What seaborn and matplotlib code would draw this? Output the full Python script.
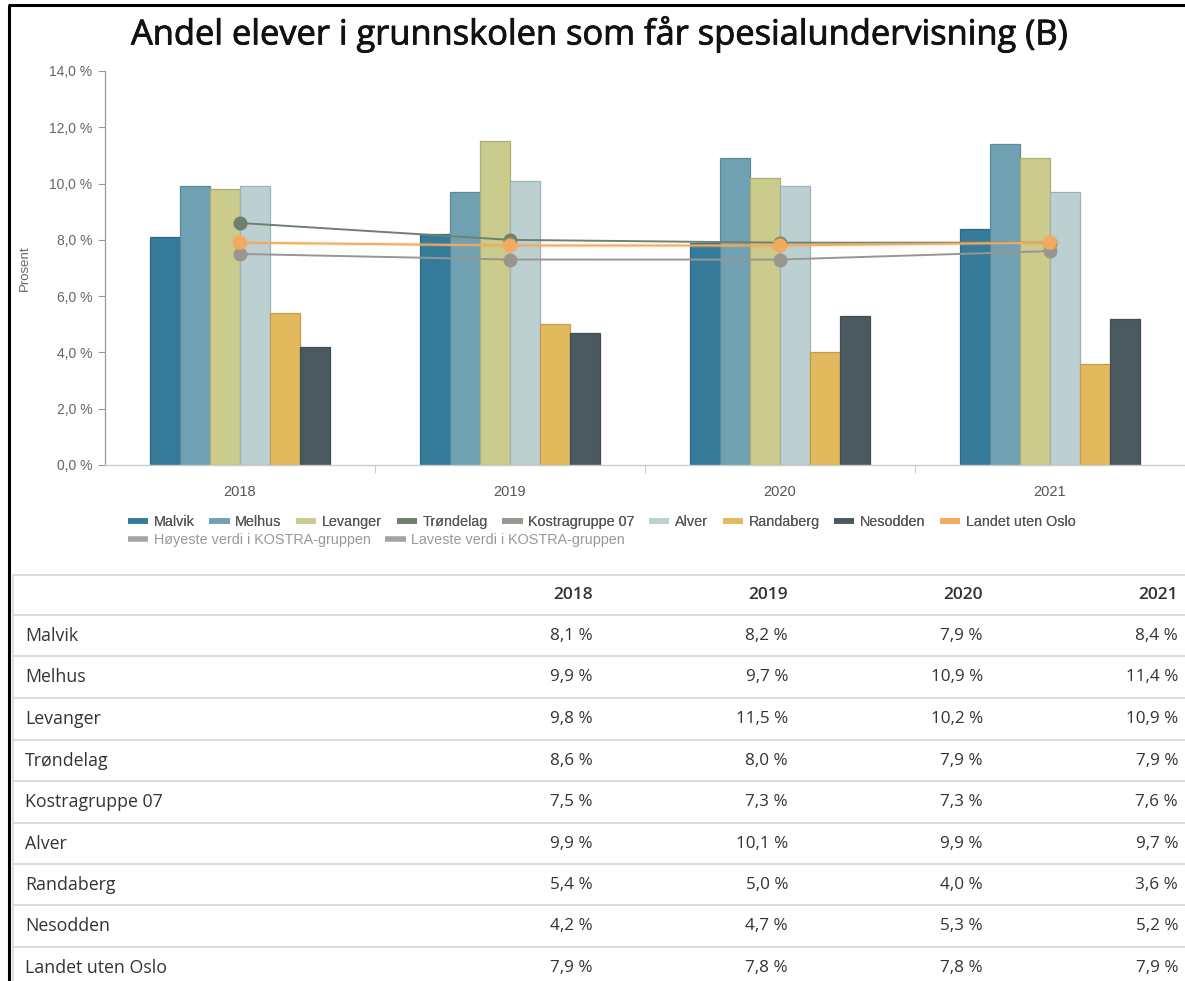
import numpy as np
import pandas as pd
import matplotlib
matplotlib.use("Agg")
import matplotlib.pyplot as plt
from matplotlib.lines import Line2D
from matplotlib.ticker import FuncFormatter, FixedLocator
import matplotlib.colors as mcolors
import matplotlib.patheffects as pe
import seaborn as sns

# ---------------- data ----------------
years = ["2018", "2019", "2020", "2021"]
malvik = [8.1, 8.2, 7.9, 8.4]
melhus = [9.9, 9.7, 10.9, 11.4]
levanger = [9.8, 11.5, 10.2, 10.9]
trondelag = [8.6, 8.0, 7.9, 7.9]
kostra07 = [7.5, 7.3, 7.3, 7.6]
alver = [9.9, 10.1, 9.9, 9.7]
randaberg = [5.4, 5.0, 4.0, 3.6]
nesodden = [4.2, 4.7, 5.3, 5.2]
landet = [7.9, 7.8, 7.8, 7.9]

bar_series = {"Malvik": malvik, "Melhus": melhus, "Levanger": levanger,
              "Alver": alver, "Randaberg": randaberg, "Nesodden": nesodden}
line_series = {"Trøndelag": trondelag, "Kostragruppe 07": kostra07,
               "Landet uten Oslo": landet}
table_order = ["Malvik", "Melhus", "Levanger", "Trøndelag", "Kostragruppe 07",
               "Alver", "Randaberg", "Nesodden", "Landet uten Oslo"]
legend_row1 = table_order
legend_row2 = ["Høyeste verdi i KOSTRA-gruppen", "Laveste verdi i KOSTRA-gruppen"]

colors = {"Malvik": "#367a99", "Melhus": "#6fa1b3", "Levanger": "#cacb8c",
          "Trøndelag": "#6f806f", "Kostragruppe 07": "#9a958f", "Alver": "#bcd0d2",
          "Randaberg": "#e3b95d", "Nesodden": "#4b5a60", "Landet uten Oslo": "#f2aa60",
          "Høyeste verdi i KOSTRA-gruppen": "#a3a3a3",
          "Laveste verdi i KOSTRA-gruppen": "#a3a3a3"}

all_series = dict(bar_series)
all_series.update(line_series)

df_bars = pd.DataFrame([(y, s, v) for s, vals in bar_series.items() for y, v in zip(years, vals)],
                       columns=["year", "series", "value"])
df_lines = pd.DataFrame([(y, s, v) for s, vals in line_series.items() for y, v in zip(years, vals)],
                        columns=["year", "series", "value"])

# ---------------- style ----------------
sns.set_theme(style="white")
plt.rcParams["font.family"] = ["Liberation Sans", "DejaVu Sans"]

W, H = 1185, 981
fig = plt.figure(figsize=(W / 100, H / 100), dpi=100)
fig.patch.set_facecolor("white")

# pixel-coordinate overlay axes for the table / frame
ax_t = fig.add_axes([0, 0, 1, 1])
ax_t.set_xlim(0, W)
ax_t.set_ylim(H, 0)
ax_t.axis("off")

ax = fig.add_axes([105 / W, 1 - 465 / H, (1185 - 105) / W, (465 - 71) / H])
ax.set_facecolor("none")

sns.barplot(data=df_bars, x="year", y="value", hue="series", order=years,
            hue_order=list(bar_series.keys()),
            palette=[colors[s] for s in bar_series], width=0.667, saturation=1,
            errorbar=None, legend=False, ax=ax, zorder=2)
for p in ax.patches:
    fc = mcolors.to_rgb(p.get_facecolor())
    p.set_edgecolor(tuple(c * 0.85 for c in fc))
    p.set_linewidth(0.9)

sns.pointplot(data=df_lines, x="year", y="value", hue="series", order=years,
              hue_order=list(line_series.keys()),
              palette=[colors[s] for s in line_series], markers="o",
              errorbar=None, legend=False, ax=ax, markersize=9, linewidth=1.4,
              native_scale=False)
for ln in ax.lines:
    ln.set_zorder(4)
    if mcolors.to_hex(ln.get_color()) == colors["Landet uten Oslo"]:
        ln.set_path_effects([pe.Stroke(linewidth=3.2, foreground="#f2aa60", alpha=0.18), pe.Normal()])
for c in ax.collections:
    c.set_zorder(4)

ax.set_ylim(0, 14)
ax.set_xlim(-0.5, 3.5)
ax.yaxis.set_major_locator(FixedLocator(np.arange(0, 14.1, 2)))
ax.yaxis.set_major_formatter(FuncFormatter(lambda v, p: f"{v:.1f} %".replace(".", ",")))
ax.set_xlabel("")
ax.set_ylabel("Prosent", color="#666666", fontsize=9.5, labelpad=13)
ax.tick_params(axis="y", which="major", left=True, length=5, width=0.8,
               color="#999999", labelcolor="#666666", labelsize=10, pad=4)
ax.tick_params(axis="x", which="major", bottom=False, labelcolor="#555555",
               labelsize=10.5, pad=8.5)
ax.xaxis.set_minor_locator(FixedLocator([0.5, 1.5, 2.5]))
ax.tick_params(axis="x", which="minor", bottom=True, length=6, width=0.8, color="#cccccc")
for side in ["top", "right"]:
    ax.spines[side].set_visible(False)
ax.spines["left"].set_color("#999999")
ax.spines["left"].set_linewidth(0.9)
ax.spines["bottom"].set_color("#cccccc")
ax.spines["bottom"].set_linewidth(1)
ax.grid(False)

# title
fig.text(601 / W, 1 - 34 / H, "Andel elever i grunnskolen som får spesialundervisning (B)",
         ha="center", va="center", fontsize=24.8, color="#111111", family="Open Sans",
         path_effects=[pe.withStroke(linewidth=0.6, foreground="#111111")])

# legends
h1 = [Line2D([], [], color=colors[s], lw=4, solid_capstyle="butt") for s in legend_row1]
leg1 = fig.legend(h1, legend_row1, loc="center left", bbox_to_anchor=(128 / W, 1 - 522 / H),
                  ncol=9, frameon=False, fontsize=10.4, handlelength=1.4, handletextpad=0.4,
                  columnspacing=1.0, labelcolor="#555555", borderaxespad=0, borderpad=0)
h2 = [Line2D([], [], color=colors[s], lw=4, solid_capstyle="butt") for s in legend_row2]
leg2 = fig.legend(h2, legend_row2, loc="center left", bbox_to_anchor=(128 / W, 1 - 540 / H),
                  ncol=2, frameon=False, fontsize=10.4, handlelength=1.4, handletextpad=0.4,
                  columnspacing=1.0, labelcolor="#999999", borderaxespad=0, borderpad=0)
fig.add_artist(leg1)

# ---------------- table ----------------
tfont = "Open Sans"
row_tops = [575, 615, 656, 698, 740, 781, 823, 864, 905, 947]
col_x = [593, 788, 983, 1178]
for y in row_tops:
    ax_t.plot([13, 1185], [y, y], color="#d6d6d6", lw=1.2, solid_capstyle="butt")
ax_t.plot([13, 13], [575, H], color="#d6d6d6", lw=1.2)
# header
hy = (row_tops[0] + row_tops[1]) / 2
for x, yr in zip(col_x, years):
    ax_t.text(x, hy, yr, ha="right", va="center", fontsize=12.5, fontweight="semibold",
              color="#333333", family=tfont)
for i, name in enumerate(table_order):
    top = row_tops[i + 1]
    cy = top + 21
    ax_t.text(25, cy, name, ha="left", va="center", fontsize=12.8, color="#333333", family=tfont)
    for x, v in zip(col_x, all_series[name]):
        ax_t.text(x, cy, f"{v:.1f} %".replace(".", ","), ha="right", va="center",
                  fontsize=12.3, color="#333333", family=tfont)

# frame lines (screenshot border)
ax_t.plot([9, 9], [5, H], color="black", lw=2.2, solid_capstyle="butt")
ax_t.plot([8, W], [5, 5], color="black", lw=2.2, solid_capstyle="butt")

fig.savefig("out.png", dpi=100)
